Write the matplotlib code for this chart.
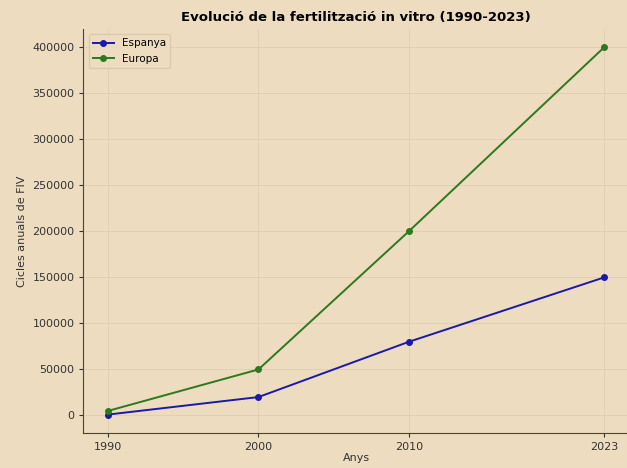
import numpy as np
import matplotlib.pyplot as plt

# dades
anys = [1990, 2000, 2010, 2023]
espanya = [1000, 20000, 80000, 150000]
europa = [5000, 50000, 200000, 400000]

bg = '#EDDCBF'
fig = plt.figure(figsize=(6.27, 4.68), dpi=100, facecolor=bg)
ax = fig.add_axes([0.133, 0.075, 0.87, 0.863])
ax.set_facecolor(bg)

ax.plot(anys, espanya, 'o-', color='#1a1aa8', lw=1.4, ms=4, label='Espanya')
ax.plot(anys, europa, 'o-', color='#2a7a1e', lw=1.4, ms=4, label='Europa')

ax.set_xticks(anys)
ax.set_yticks(np.arange(0, 400001, 50000))
ax.tick_params(labelsize=8, colors='#333333', length=3)
ax.grid(True, color='#e0cfb2', lw=0.7)
for s in ['top', 'right']:
    ax.spines[s].set_visible(False)
for s in ['left', 'bottom']:
    ax.spines[s].set_color('#444444')

ax.set_title('Evolució de la fertilització in vitro (1990-2023)', fontsize=9.5, fontweight='bold', pad=6)
ax.set_xlabel('Anys', fontsize=8, color='#333333', labelpad=1)
ax.set_ylabel('Cicles anuals de FIV', fontsize=8, color='#333333')
ax.legend(loc='upper left', fontsize=7.5, facecolor=bg, edgecolor='#d6c5a8')

fig.savefig('out.png', facecolor=bg)
